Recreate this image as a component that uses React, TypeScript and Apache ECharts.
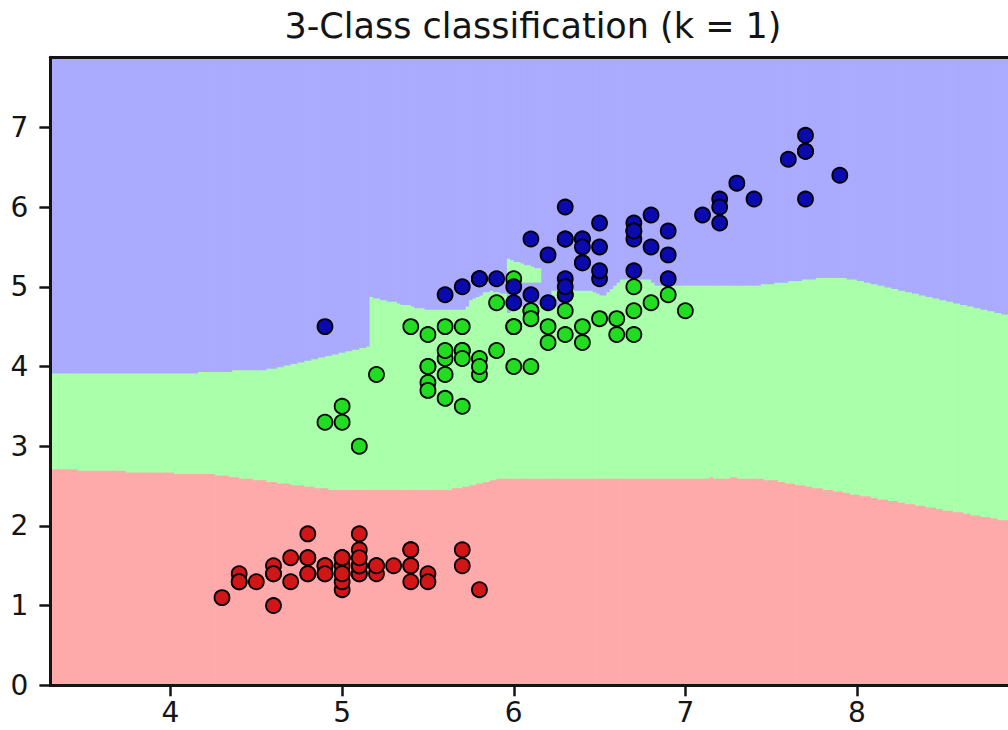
import React, { useEffect, useRef } from "react";
import * as echarts from "echarts";

// Iris: sepal length (x) vs petal length (y)
const setosaSepal = [5.1, 4.9, 4.7, 4.6, 5.0, 5.4, 4.6, 5.0, 4.4, 4.9, 5.4, 4.8, 4.8, 4.3, 5.8, 5.7, 5.4, 5.1, 5.7, 5.1, 5.4, 5.1, 4.6, 5.1, 4.8, 5.0, 5.0, 5.2, 5.2, 4.7, 4.8, 5.4, 5.2, 5.5, 4.9, 5.0, 5.5, 4.9, 4.4, 5.1, 5.0, 4.5, 4.4, 5.0, 5.1, 4.8, 5.1, 4.6, 5.3, 5.0];
const setosaPetal = [1.4, 1.4, 1.3, 1.5, 1.4, 1.7, 1.4, 1.5, 1.4, 1.5, 1.5, 1.6, 1.4, 1.1, 1.2, 1.5, 1.3, 1.4, 1.7, 1.5, 1.7, 1.5, 1.0, 1.7, 1.9, 1.6, 1.6, 1.5, 1.4, 1.6, 1.6, 1.5, 1.5, 1.4, 1.5, 1.2, 1.3, 1.4, 1.3, 1.5, 1.3, 1.3, 1.3, 1.6, 1.9, 1.4, 1.6, 1.4, 1.5, 1.4];
const versicolorSepal = [7.0, 6.4, 6.9, 5.5, 6.5, 5.7, 6.3, 4.9, 6.6, 5.2, 5.0, 5.9, 6.0, 6.1, 5.6, 6.7, 5.6, 5.8, 6.2, 5.6, 5.9, 6.1, 6.3, 6.1, 6.4, 6.6, 6.8, 6.7, 6.0, 5.7, 5.5, 5.5, 5.8, 6.0, 5.4, 6.0, 6.7, 6.3, 5.6, 5.5, 5.5, 6.1, 5.8, 5.0, 5.6, 5.7, 5.7, 6.2, 5.1, 5.7];
const versicolorPetal = [4.7, 4.5, 4.9, 4.0, 4.6, 4.5, 4.7, 3.3, 4.6, 3.9, 3.5, 4.2, 4.0, 4.7, 3.6, 4.4, 4.5, 4.1, 4.5, 3.9, 4.8, 4.0, 4.9, 4.7, 4.3, 4.4, 4.8, 5.0, 4.5, 3.5, 3.8, 3.7, 3.9, 5.1, 4.5, 4.5, 4.7, 4.4, 4.1, 4.0, 4.4, 4.6, 4.0, 3.3, 4.2, 4.2, 4.2, 4.3, 3.0, 4.1];
const virginicaSepal = [6.3, 5.8, 7.1, 6.3, 6.5, 7.6, 4.9, 7.3, 6.7, 7.2, 6.5, 6.4, 6.8, 5.7, 5.8, 6.4, 6.5, 7.7, 7.7, 6.0, 6.9, 5.6, 7.7, 6.3, 6.7, 7.2, 6.2, 6.1, 6.4, 7.2, 7.4, 7.9, 6.4, 6.3, 6.1, 7.7, 6.3, 6.4, 6.0, 6.9, 6.7, 6.9, 5.8, 6.8, 6.7, 6.7, 6.3, 6.5, 6.2, 5.9];
const virginicaPetal = [6.0, 5.1, 5.9, 5.6, 5.8, 6.6, 4.5, 6.3, 5.8, 6.1, 5.1, 5.3, 5.5, 5.0, 5.1, 5.3, 5.5, 6.7, 6.9, 5.0, 5.7, 4.9, 6.7, 4.9, 5.7, 6.0, 4.8, 4.9, 5.6, 5.8, 6.1, 6.4, 5.6, 5.1, 5.6, 6.1, 5.6, 5.5, 4.8, 5.4, 5.6, 5.1, 5.1, 5.9, 5.7, 5.2, 5.0, 5.2, 5.4, 5.1];

const xTickValues = [4, 5, 6, 7, 8];
const yTickValues = [0, 1, 2, 3, 4, 5, 6, 7];
const titleText = "3-Class classification (k = 1)";

const lightColors = ["#FFAAAA", "#AAFFAA", "#AAAAFF"];
const boldColors = ["#d01616", "#22dc22", "#0a0aae"];

const MESH_STEP = 0.02;

function arange(start: number, stop: number, step: number): number[] {
  const n = Math.ceil((stop - start) / step);
  const out: number[] = [];
  for (let i = 0; i < n; i++) out.push(start + i * step);
  return out;
}

function buildRegions() {
  const tx = [...setosaSepal, ...versicolorSepal, ...virginicaSepal];
  const ty = [...setosaPetal, ...versicolorPetal, ...virginicaPetal];
  const tc = [
    ...setosaSepal.map(() => 0),
    ...versicolorSepal.map(() => 1),
    ...virginicaSepal.map(() => 2),
  ];
  const xMin = Math.min(...tx) - 1;
  const xMax = Math.max(...tx) + 1;
  const yMin = Math.min(...ty) - 1;
  const yMax = Math.max(...ty) + 1;
  const gx = arange(xMin, xMax, MESH_STEP);
  const gy = arange(yMin, yMax, MESH_STEP);

  const classify = (x: number, y: number) => {
    let best = Infinity;
    let cls = 0;
    for (let k = 0; k < tx.length; k++) {
      const dx = tx[k] - x;
      const dy = ty[k] - y;
      const d = dx * dx + dy * dy;
      if (d < best) {
        best = d;
        cls = tc[k];
      }
    }
    return cls;
  };

  const items: number[][] = [];
  let prevKey = "";
  let prevRuns: number[][] = [];
  let colStart = gx[0];
  const flush = (endX: number) => {
    for (const r of prevRuns) items.push([colStart, endX, r[0], r[1], r[2]]);
  };
  for (let i = 0; i < gx.length; i++) {
    const runs: number[][] = [];
    let runStart = gy[0];
    let runCls = classify(gx[i], gy[0]);
    for (let j = 1; j < gy.length; j++) {
      const c = classify(gx[i], gy[j]);
      if (c !== runCls) {
        runs.push([runStart, gy[j], runCls]);
        runStart = gy[j];
        runCls = c;
      }
    }
    runs.push([runStart, gy[gy.length - 1] + MESH_STEP, runCls]);
    const key = runs.map((r) => r.join(",")).join(";");
    if (key !== prevKey) {
      if (prevRuns.length) flush(gx[i]);
      prevKey = key;
      prevRuns = runs;
      colStart = gx[i];
    }
  }
  flush(gx[gx.length - 1] + MESH_STEP);
  return {
    items,
    xLo: gx[0],
    xHi: gx[gx.length - 1],
    yLo: gy[0],
    yHi: gy[gy.length - 1],
  };
}

export default function App() {
  const ref = useRef<HTMLDivElement>(null);

  useEffect(() => {
    document.body.style.margin = "0";
    if (!ref.current) return;
    const chart = echarts.init(ref.current, undefined, { renderer: "svg" });
    const reg = buildRegions();

    const W = 1008;
    const left = 50.4;
    const pxPerX = 173.3;
    const right = W - left - pxPerX * (reg.xHi - reg.xLo);

    const font = "DejaVu Sans";
    const inkColor = "#141414";

    const axisCommon = {
      type: "value" as const,
      z: 10,
      splitLine: { show: false },
      axisLine: { show: true, onZero: false, lineStyle: { color: inkColor, width: 3 } },
      axisTick: { show: true, length: 11, lineStyle: { color: inkColor, width: 2.5 } },
    };

    const mk = (xs: number[], ys: number[]) => xs.map((x, i) => [x, ys[i]]);

    const scatterStyle = (c: string) => ({
      color: c,
      opacity: 1,
      borderColor: "#000000",
      borderWidth: 1.8,
    });

    chart.setOption({
      animation: false,
      backgroundColor: "#ffffff",
      grid: { left, right, top: 57.2, bottom: 44.7, containLabel: false },
      xAxis: [
        {
          ...axisCommon,
          position: "bottom",
          min: reg.xLo,
          max: reg.xHi,
          axisTick: { ...axisCommon.axisTick, customValues: xTickValues },
          axisLabel: {
            customValues: xTickValues,
            fontSize: 28,
            fontFamily: font,
            color: inkColor,
            margin: 13,
          },
        },
        {
          ...axisCommon,
          position: "top",
          min: reg.xLo,
          max: reg.xHi,
          axisTick: { show: false },
          axisLabel: { show: false },
        },
      ],
      yAxis: {
        ...axisCommon,
        position: "left",
        min: reg.yLo,
        max: reg.yHi,
        axisTick: { ...axisCommon.axisTick, customValues: yTickValues },
        axisLabel: {
          customValues: yTickValues,
          fontSize: 28,
          fontFamily: font,
          color: inkColor,
          margin: 22,
        },
      },
      graphic: [
        {
          type: "text",
          z: 100,
          style: {
            text: titleText,
            x: 533,
            y: 26,
            fontSize: 35,
            fontFamily: font,
            fill: inkColor,
            align: "center",
            verticalAlign: "middle",
            textAlign: "center",
            textVerticalAlign: "middle",
          },
        },
      ],
      series: [
        {
          type: "custom",
          name: "regions",
          z: 1,
          clip: true,
          silent: true,
          xAxisIndex: 0,
          yAxisIndex: 0,
          data: reg.items,
          encode: { x: [0, 1], y: [2, 3] },
          renderItem: (params: any, api: any) => {
            const p0 = api.coord([api.value(0), api.value(3)]);
            const p1 = api.coord([api.value(1), api.value(2)]);
            const cls = api.value(4) as number;
            return {
              type: "rect",
              shape: {
                x: p0[0],
                y: p0[1],
                width: p1[0] - p0[0] + 0.7,
                height: p1[1] - p0[1] + 0.7,
              },
              style: { fill: lightColors[cls] },
            };
          },
        },
        {
          type: "scatter",
          name: "setosa",
          z: 5,
          symbolSize: 15,
          data: mk(setosaSepal, setosaPetal),
          itemStyle: scatterStyle(boldColors[0]),
        },
        {
          type: "scatter",
          name: "versicolor",
          z: 5,
          symbolSize: 15,
          data: mk(versicolorSepal, versicolorPetal),
          itemStyle: scatterStyle(boldColors[1]),
        },
        {
          type: "scatter",
          name: "virginica",
          z: 5,
          symbolSize: 15,
          data: mk(virginicaSepal, virginicaPetal),
          itemStyle: scatterStyle(boldColors[2]),
        },
      ],
    });

    return () => chart.dispose();
  }, []);

  return <div ref={ref} style={{ width: 1008, height: 730 }} />;
}
